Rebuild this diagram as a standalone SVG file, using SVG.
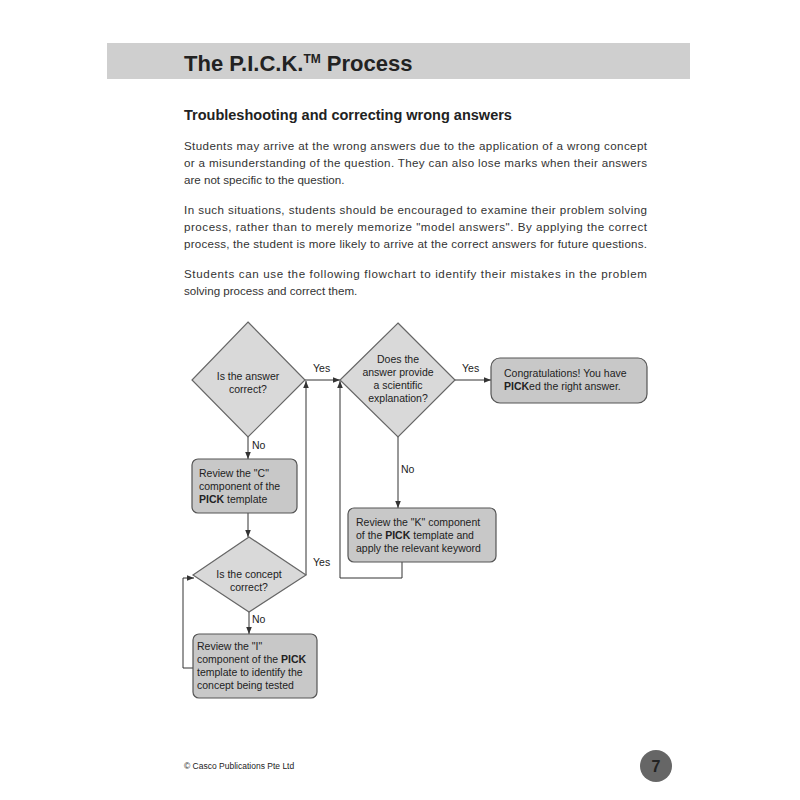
<svg xmlns="http://www.w3.org/2000/svg" width="800" height="800" viewBox="0 0 800 800">
<defs>
<marker id="ah" viewBox="0 0 10 10" refX="10" refY="5" markerWidth="7" markerHeight="7" orient="auto"><path d="M0,1 L10,5 L0,9 z" fill="#333"/></marker>
<style>
text{font-family:"Liberation Sans",Arial,sans-serif;fill:#222}
.p{font-size:11.6px;fill:#333}
.n{font-size:10.5px}
.l{font-size:10.5px}
.d{fill:#d9d9d9;stroke:#666;stroke-width:1.2}
.b{fill:#c8c8c8;stroke:#555;stroke-width:1.2}
.c{fill:none;stroke:#333;stroke-width:1}
</style>
</defs>
<rect width="800" height="800" fill="#fff"/>
<rect x="107" y="43" width="583" height="36" fill="#cfcfcf"/>
<text x="184" y="71" font-size="22" font-weight="bold" fill="#111">The P.I.C.K.<tspan font-size="12" dy="-8">TM</tspan><tspan dy="8"> Process</tspan></text>
<text x="184" y="120" font-size="14.5" font-weight="bold">Troubleshooting and correcting wrong answers</text>
<text class="p" x="184" y="150" textLength="463">Students may arrive at the wrong answers due to the application of a wrong concept</text>
<text class="p" x="184" y="167" textLength="463">or a misunderstanding of the question. They can also lose marks when their answers</text>
<text class="p" x="184" y="184">are not specific to the question.</text>
<text class="p" x="184" y="214" textLength="463">In such situations, students should be encouraged to examine their problem solving</text>
<text class="p" x="184" y="231" textLength="463">process, rather than to merely memorize "model answers". By applying the correct</text>
<text class="p" x="184" y="248" textLength="463">process, the student is more likely to arrive at the correct answers for future questions.</text>
<text class="p" x="184" y="278" textLength="463">Students can use the following flowchart to identify their mistakes in the problem</text>
<text class="p" x="184" y="295">solving process and correct them.</text>

<g id="connectors">
<path class="c" d="M305,380 H340" marker-end="url(#ah)"/>
<path class="c" d="M455,380 H491" marker-end="url(#ah)"/>
<path class="c" d="M248,437 V459" marker-end="url(#ah)"/>
<path class="c" d="M248,513 V537" marker-end="url(#ah)"/>
<path class="c" d="M249,612 V634" marker-end="url(#ah)"/>
<path class="c" d="M398,437 V508" marker-end="url(#ah)"/>
<path class="c" d="M306,575 V381" marker-end="url(#ah)"/>
<path class="c" d="M402,562 V578 H340 V381" marker-end="url(#ah)"/>
<path class="c" d="M193,668 H183 V578 H194" marker-end="url(#ah)"/>
<text class="l" x="313" y="372">Yes</text>
<text class="l" x="462" y="372">Yes</text>
<text class="l" x="252" y="449">No</text>
<text class="l" x="401" y="473">No</text>
<text class="l" x="313" y="566">Yes</text>
<text class="l" x="252" y="623">No</text>
</g>

<g id="d1"><polygon class="d" points="248,322 305,380 248,437 192,380"/>
<text class="n" text-anchor="middle" x="248" y="380">Is the answer</text><text class="n" text-anchor="middle" x="248" y="393">correct?</text></g>
<g id="d2"><polygon class="d" points="398,323 455,380 398,437 340,380"/>
<text class="n" text-anchor="middle" x="398" y="363">Does the</text><text class="n" text-anchor="middle" x="398" y="376">answer provide</text><text class="n" text-anchor="middle" x="398" y="389">a scientific</text><text class="n" text-anchor="middle" x="398" y="402">explanation?</text></g>
<g id="congrats"><rect class="b" x="491" y="358" width="156" height="45" rx="9"/>
<text class="n" x="504" y="377">Congratulations! You have</text><text class="n" x="504" y="390"><tspan font-weight="bold">PICK</tspan>ed the right answer.</text></g>
<g id="boxC"><rect class="b" x="192" y="459" width="105" height="54" rx="6"/>
<text class="n" x="199" y="477">Review the "C"</text><text class="n" x="199" y="490">component of the</text><text class="n" x="199" y="503"><tspan font-weight="bold">PICK</tspan> template</text></g>
<g id="d3"><polygon class="d" points="249,537 306,575 249,612 193,575"/>
<text class="n" text-anchor="middle" x="249" y="578">Is the concept</text><text class="n" text-anchor="middle" x="249" y="591">correct?</text></g>
<g id="boxK"><rect class="b" x="348" y="508" width="148" height="54" rx="6"/>
<text class="n" x="356" y="526">Review the "K" component</text><text class="n" x="356" y="539">of the <tspan font-weight="bold">PICK</tspan> template and</text><text class="n" x="356" y="552">apply the relevant keyword</text></g>
<g id="boxI"><rect class="b" x="193" y="634" width="124" height="64" rx="6"/>
<text class="n" x="197" y="650">Review the "I"</text><text class="n" x="197" y="663">component of the <tspan font-weight="bold">PICK</tspan></text><text class="n" x="197" y="676">template to identify the</text><text class="n" x="197" y="689">concept being tested</text></g>

<text x="184" y="769" font-size="8.5" fill="#333">© Casco Publications Pte Ltd</text>
<circle cx="656" cy="766" r="16" fill="#666"/>
<text x="656" y="772" font-size="16" font-weight="bold" text-anchor="middle" fill="#fff">7</text>
</svg>
